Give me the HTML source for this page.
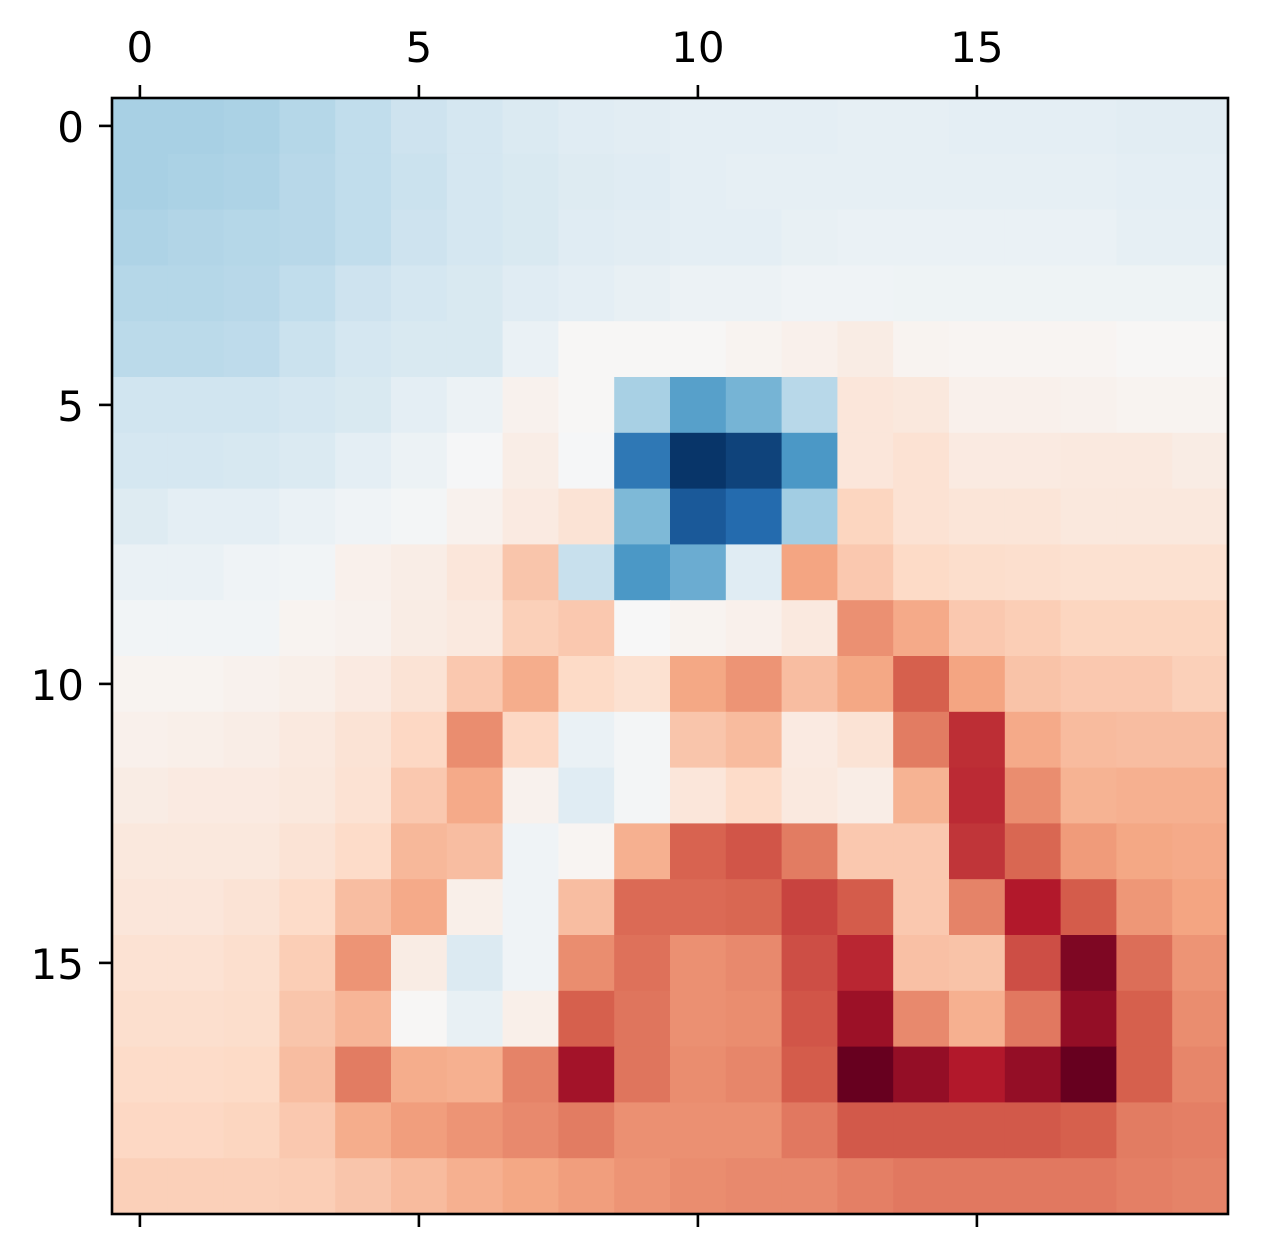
<!DOCTYPE html>
<html><head><meta charset="utf-8"><style>
html,body{margin:0;padding:0;background:#fff;}
svg text{font-family:"DejaVu Sans","Liberation Sans",sans-serif;font-size:42px;fill:#000;}
</style></head><body>
<svg id="chart" width="1261" height="1248" viewBox="0 0 1261 1248" xmlns="http://www.w3.org/2000/svg"></svg>
<script>
const rowsData = [
[-.33,-.33,-.32,-.29,-.25,-.21,-.18,-.15,-.12,-.11,-.10,-.10,-.10,-.09,-.09,-.10,-.10,-.10,-.11,-.11],
[-.33,-.32,-.31,-.28,-.25,-.22,-.18,-.16,-.13,-.12,-.10,-.09,-.09,-.09,-.09,-.09,-.09,-.09,-.10,-.10],
[-.31,-.30,-.29,-.28,-.25,-.21,-.18,-.16,-.12,-.11,-.10,-.10,-.08,-.07,-.07,-.07,-.07,-.07,-.09,-.09],
[-.29,-.29,-.28,-.25,-.21,-.18,-.16,-.12,-.10,-.08,-.06,-.06,-.04,-.04,-.05,-.05,-.05,-.05,-.05,-.05],
[-.27,-.27,-.26,-.22,-.18,-.16,-.16,-.07,.01,.01,.01,.03,.05,.08,.03,.02,.02,.02,.01,.01],
[-.20,-.20,-.20,-.18,-.16,-.10,-.06,.04,.01,-.33,-.55,-.47,-.28,.12,.11,.05,.05,.04,.03,.03],
[-.18,-.18,-.17,-.15,-.10,-.06,-.01,.07,-.01,-.72,-.98,-.93,-.58,.12,.15,.09,.09,.10,.10,.08],
[-.13,-.10,-.10,-.07,-.04,-.02,.04,.09,.14,-.45,-.85,-.78,-.35,.22,.15,.13,.13,.11,.11,.11],
[-.07,-.07,-.04,-.03,.05,.07,.12,.28,-.23,-.58,-.50,-.12,.40,.27,.20,.18,.17,.16,.16,.16],
[-.03,-.03,-.03,.03,.04,.08,.10,.24,.27,.00,.03,.05,.10,.46,.38,.27,.25,.22,.22,.22],
[.03,.03,.04,.06,.09,.14,.27,.37,.20,.16,.39,.45,.31,.39,.60,.40,.29,.27,.27,.24],
[.05,.06,.07,.10,.14,.21,.47,.21,-.07,-.02,.28,.32,.09,.14,.52,.74,.38,.32,.31,.31],
[.08,.09,.09,.11,.15,.27,.38,.04,-.12,-.02,.12,.19,.10,.07,.35,.75,.47,.35,.36,.36],
[.11,.11,.11,.14,.19,.33,.31,-.04,.02,.36,.59,.63,.52,.27,.27,.72,.58,.43,.39,.38],
[.12,.12,.14,.19,.31,.38,.06,-.04,.31,.57,.57,.58,.68,.61,.27,.50,.80,.61,.44,.40],
[.15,.15,.17,.25,.45,.08,-.14,-.04,.47,.55,.46,.48,.65,.76,.30,.29,.65,.94,.56,.45],
[.17,.17,.18,.28,.34,.01,-.08,.06,.60,.54,.46,.47,.63,.86,.48,.36,.53,.88,.60,.47],
[.19,.19,.20,.31,.52,.37,.36,.50,.84,.54,.47,.49,.61,1.0,.88,.80,.88,1.0,.60,.49],
[.21,.21,.22,.27,.37,.42,.45,.48,.52,.46,.46,.46,.53,.62,.62,.62,.62,.60,.52,.51],
[.24,.24,.24,.25,.28,.32,.36,.39,.42,.45,.47,.48,.48,.51,.53,.53,.53,.53,.51,.50]
];
const xTicks = [0,5,10,15];
const yTicks = [0,5,10,15];

const L=112,T=98,W=1116,H=1116,N=20,cw=W/N,ch=H/N;
const xPos=c=>L+c*cw, yPos=r=>T+r*ch;
const stops=["#053061","#2166ac","#4393c3","#92c5de","#d1e5f0","#f7f7f7","#fddbc7","#f4a582","#d6604d","#b2182b","#67001f"];
function hex(h){return [1,3,5].map(i=>parseInt(h.substr(i,2),16));}
function color(v){let t=(Math.max(-1,Math.min(1,v))+1)/2*10;let i=Math.min(9,Math.floor(t)),f=t-i;
const a=hex(stops[i]),b=hex(stops[i+1]);return "rgb("+a.map((x,k)=>Math.round(x+(b[k]-x)*f)).join(",")+")";}
const svg=document.getElementById('chart');const NS="http://www.w3.org/2000/svg";
function mk(tag,at){const e=document.createElementNS(NS,tag);for(const k in at)e.setAttribute(k,at[k]);svg.appendChild(e);return e;}
rowsData.forEach((row,r)=>row.forEach((v,c)=>{
  const e=mk('rect',{x:xPos(c),y:yPos(r),width:cw+0.6,height:ch+0.6,fill:color(v)});
  
  
}));
const fr=mk('rect',{x:L,y:T,width:W,height:H,fill:'none',stroke:'#000','stroke-width':2.6});


xTicks.forEach(t=>{const x=xPos(t)+cw/2;
  const a=mk('line',{x1:x,x2:x,y1:T,y2:T-13,stroke:'#000','stroke-width':2.6});
  
  
  const b=mk('line',{x1:x,x2:x,y1:T+H,y2:T+H+13,stroke:'#000','stroke-width':2.6});
  
  
  const tx=mk('text',{x:x,y:62,'text-anchor':'middle'});tx.textContent=t;
  
  
});
yTicks.forEach(t=>{const y=yPos(t)+ch/2;
  const a=mk('line',{x1:L,x2:L-13,y1:y,y2:y,stroke:'#000','stroke-width':2.6});
  
  
  const tx=mk('text',{x:84,y:y+16,'text-anchor':'end'});tx.textContent=t;
  
  
});
</script>
</body></html>
